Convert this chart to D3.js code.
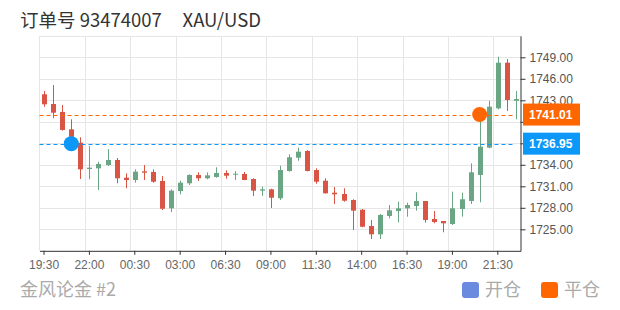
<!DOCTYPE html>
<html>
<head>
<meta charset="utf-8">
<script src="https://cdn.jsdelivr.net/npm/d3@7"></script>
<style>
  body { margin: 0; background: #fff; }
  svg { display: block; font-family: "Noto Sans CJK SC", "Liberation Sans", sans-serif; }
</style>
</head>
<body>
<div id="chart"></div>
<script>
// candle times (30 min bars)
var times = ["19:30","20:00","20:30","21:00","21:30","22:00","22:30","23:00","23:30","00:00",
  "00:30","01:00","01:30","02:00","02:30","03:00","03:30","04:00","04:30","06:00",
  "06:30","07:00","07:30","08:00","08:30","09:00","09:30","10:00","10:30","11:00",
  "11:30","12:00","12:30","13:00","13:30","14:00","14:30","15:00","15:30","16:00",
  "16:30","17:00","17:30","18:00","18:30","19:00","19:30","20:00","20:30","21:00",
  "21:30","22:00","22:30"];

var opens = [1743.84,1742.48,1741.37,1738.95,1737.08,1733.41,1733.51,1733.97,1734.67,1732.20,
  1731.88,1733.09,1733.00,1731.74,1727.93,1730.34,1731.42,1732.58,1732.12,1732.30,
  1732.86,1732.67,1732.72,1732.02,1730.39,1730.58,1729.33,1733.13,1734.99,1735.93,
  1733.27,1731.78,1730.11,1729.93,1729.09,1727.73,1725.46,1724.30,1726.86,1727.55,
  1727.93,1728.25,1728.95,1726.44,1726.16,1725.74,1727.83,1728.95,1732.58,1736.39,
  1741.88,1748.25,1742.94];
var highs = [1744.30,1745.13,1742.34,1740.35,1737.84,1736.62,1734.43,1736.20,1734.95,1732.81,
  1733.37,1733.97,1733.37,1732.44,1730.58,1731.78,1732.67,1732.95,1732.95,1733.65,
  1733.23,1733.13,1733.00,1732.12,1730.94,1730.66,1733.87,1735.46,1736.39,1736.06,
  1733.51,1732.12,1730.90,1730.72,1729.19,1727.83,1726.30,1727.13,1728.39,1728.85,
  1728.71,1730.16,1728.95,1727.55,1726.16,1730.25,1730.11,1734.21,1741.10,1742.94,
  1749.08,1748.76,1744.30];
var lows = [1742.10,1740.49,1738.76,1737.40,1732.02,1731.98,1730.48,1733.83,1731.42,1730.72,
  1731.50,1731.88,1731.50,1727.69,1727.41,1729.88,1731.18,1731.74,1731.98,1732.20,
  1732.06,1731.88,1731.85,1729.65,1729.69,1727.97,1729.09,1733.04,1734.57,1733.10,
  1731.36,1730.00,1728.53,1728.85,1724.90,1725.28,1723.65,1723.65,1726.53,1725.98,
  1726.76,1727.60,1725.92,1725.84,1724.58,1725.60,1726.76,1728.53,1728.77,1736.30,
  1741.74,1741.51,1740.35];
var closes = [1742.44,1741.27,1738.86,1737.90,1733.37,1733.60,1734.11,1734.67,1732.12,1731.88,
  1733.04,1732.90,1731.64,1727.87,1730.39,1731.50,1732.58,1732.12,1732.53,1732.86,
  1732.48,1732.76,1731.88,1730.39,1730.58,1729.41,1733.27,1735.05,1735.83,1733.13,
  1731.64,1730.02,1729.88,1728.99,1727.60,1725.36,1724.30,1727.00,1727.65,1727.93,
  1728.39,1728.95,1726.30,1726.02,1725.84,1727.93,1729.19,1732.95,1736.53,1742.11,
  1748.25,1743.04,1743.18];

var yTicks = [1725, 1728, 1731, 1734, 1737, 1740, 1743, 1746, 1749, 1752];
var yMin = 1722, yMax = 1752;

// trade markers
var openIndex = 3, openPrice = 1736.95;
var closeIndex = 48, closePrice = 1741.01;

var legendNames = ["开仓", "平仓"];
var legendColors = ["#6a8ae0", "#ff6600"];

var width = 620, height = 310;
var plotLeft = 39.5, plotRight = 520.5, plotTop = 35.8, plotBottom = 250.8;
var upColor = "#6aa584", downColor = "#d85545";
var openColor = "#0b98f8", closeColor = "#ff6600";

var svg = d3.select("#chart").append("svg")
  .attr("width", width)
  .attr("height", height);

var idx = d3.range(times.length);

var x = d3.scaleBand()
  .domain(idx)
  .range([plotLeft, plotRight])
  .padding(0);

var y = d3.scaleLinear()
  .domain([yMin, yMax])
  .range([plotBottom, plotTop]);

var bw = x.bandwidth();
var labelIdx = idx.filter(function(i) { return i % 5 === 0; });

// grid
var grid = svg.append("g").attr("stroke", "#e6e6e6").attr("stroke-width", 1);
grid.selectAll("line.v")
  .data(labelIdx)
  .enter().append("line")
  .attr("x1", d => Math.round(x(d)) + 0.5)
  .attr("x2", d => Math.round(x(d)) + 0.5)
  .attr("y1", plotTop)
  .attr("y2", plotBottom);
grid.selectAll("line.h")
  .data(yTicks)
  .enter().append("line")
  .attr("x1", plotLeft)
  .attr("x2", plotRight)
  .attr("y1", d => Math.round(y(d)) + 0.5)
  .attr("y2", d => Math.round(y(d)) + 0.5);

// candles
var candles = svg.append("g").selectAll("g")
  .data(idx)
  .enter().append("g")
  .attr("stroke", d => closes[d] >= opens[d] ? upColor : downColor)
  .attr("fill", d => closes[d] >= opens[d] ? upColor : downColor);

candles.append("line")
  .attr("x1", d => Math.round(x(d) + bw / 2) + 0.5)
  .attr("x2", d => Math.round(x(d) + bw / 2) + 0.5)
  .attr("y1", d => y(highs[d]))
  .attr("y2", d => y(lows[d]))
  .attr("stroke-width", 1);

var bodyW = 5;
candles.append("rect")
  .attr("x", d => Math.round(x(d) + bw / 2) + 0.5 - bodyW / 2)
  .attr("width", bodyW)
  .attr("y", d => y(Math.max(opens[d], closes[d])))
  .attr("height", d => Math.max(1, y(Math.min(opens[d], closes[d])) - y(Math.max(opens[d], closes[d]))))
  .attr("stroke", "none");

// price lines
function crisp(v) { return Math.round(v) + 0.5; }
svg.append("line")
  .attr("x1", plotLeft).attr("x2", plotRight - 5)
  .attr("y1", crisp(y(closePrice))).attr("y2", crisp(y(closePrice)))
  .attr("stroke", closeColor)
  .attr("stroke-dasharray", "4,3");
svg.append("line")
  .attr("x1", plotLeft).attr("x2", plotRight - 5)
  .attr("y1", crisp(y(openPrice))).attr("y2", crisp(y(openPrice)))
  .attr("stroke", openColor)
  .attr("stroke-dasharray", "4,3");

// trade points
svg.append("circle")
  .attr("cx", x(openIndex) + bw / 2)
  .attr("cy", y(openPrice))
  .attr("r", 7.5)
  .attr("fill", openColor);
svg.append("circle")
  .attr("cx", x(closeIndex) + bw / 2)
  .attr("cy", y(closePrice))
  .attr("r", 7.5)
  .attr("fill", closeColor);

// x axis
var xAxis = svg.append("g")
  .attr("transform", `translate(0,${plotBottom})`)
  .call(d3.axisBottom(x)
    .tickValues(labelIdx)
    .tickFormat(d => times[d])
    .tickSize(4)
    .tickSizeOuter(0)
    .tickPadding(6));
xAxis.select(".domain").attr("stroke", "#333");
xAxis.selectAll(".tick line").attr("stroke", "#333");
xAxis.selectAll("text")
  .attr("fill", "#666")
  .style("font-size", "12px")
  .style("font-family", "'Liberation Sans', sans-serif");

// y axis on the right
var shownTicks = yTicks.filter(function(v) {
  return v < yMax && Math.abs(y(v) - y(openPrice)) > 11 && Math.abs(y(v) - y(closePrice)) > 11;
});
var yAxis = svg.append("g")
  .attr("transform", `translate(${plotRight},0)`)
  .call(d3.axisRight(y)
    .tickValues(yTicks.filter(v => v < yMax))
    .tickFormat(v => shownTicks.indexOf(v) >= 0 ? v.toFixed(2) : "")
    .tickSize(5)
    .tickSizeOuter(0)
    .tickPadding(4));
yAxis.select(".domain").attr("stroke", "#333");
yAxis.selectAll(".tick line").attr("stroke", "#333");
yAxis.selectAll("text")
  .attr("fill", "#555")
  .style("font-size", "12px")
  .style("font-family", "'Liberation Sans', sans-serif");

// price tags on the axis
var tags = [[closePrice, closeColor], [openPrice, openColor]];
tags.forEach(function(t) {
  var g = svg.append("g").attr("transform", `translate(${plotRight + 2.5},${y(t[0])})`);
  g.append("rect")
    .attr("x", 0).attr("y", -11)
    .attr("width", 57).attr("height", 22)
    .attr("fill", t[1]);
  g.append("text")
    .attr("x", 6).attr("y", 0).attr("dy", "0.36em")
    .attr("fill", "#fff")
    .style("font-size", "12px")
    .style("font-weight", "bold")
    .style("font-family", "'Liberation Sans', sans-serif")
    .text(t[0].toFixed(2));
});

// title
svg.append("text")
  .attr("x", 20).attr("y", 27)
  .attr("fill", "#333")
  .style("font-size", "18.5px")
  .text("订单号 93474007\u00a0\u00a0\u00a0\u00a0\u00a0XAU/USD");

// footer
svg.append("text")
  .attr("x", 20).attr("y", 296)
  .attr("fill", "#aaa")
  .style("font-size", "18px")
  .text("金风论金 #2");

// legend
var legend = svg.append("g");
var legendX = [462, 541];
legendNames.forEach(function(name, i) {
  legend.append("rect")
    .attr("x", legendX[i]).attr("y", 282)
    .attr("width", 17).attr("height", 16)
    .attr("rx", 3)
    .attr("fill", legendColors[i]);
  legend.append("text")
    .attr("x", legendX[i] + 23).attr("y", 296)
    .attr("fill", "#aaa")
    .style("font-size", "18px")
    .text(name);
});
</script>
</body>
</html>
